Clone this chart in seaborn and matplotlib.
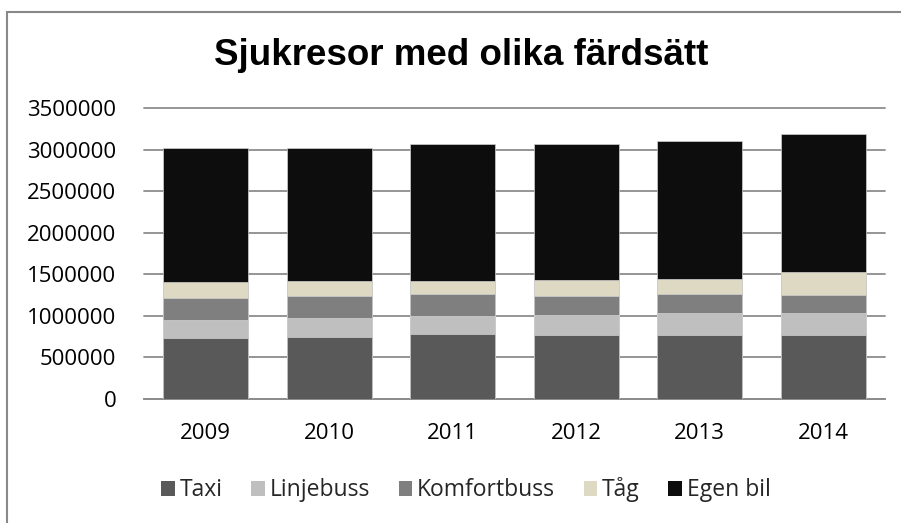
import pandas as pd
import matplotlib
matplotlib.use('Agg')
import matplotlib.pyplot as plt
import seaborn as sns
from matplotlib.patches import Patch, Rectangle

# data
years = ['2009', '2010', '2011', '2012', '2013', '2014']
taxi = [731000, 751000, 779000, 767000, 775000, 767000]
linjebuss = [216000, 229000, 225000, 249000, 261000, 273000]
komfortbuss = [265000, 260000, 257000, 224000, 233000, 209000]
tag = [197000, 181000, 160000, 189000, 176000, 276000]
egen_bil = [1610000, 1606000, 1646000, 1642000, 1658000, 1666000]

series = ['Taxi', 'Linjebuss', 'Komfortbuss', 'Tåg', 'Egen bil']
colors = ['#595959', '#BFBFBF', '#7F7F7F', '#DDD9C3', '#0D0D0D']

df = pd.DataFrame({'År': years, 'Taxi': taxi, 'Linjebuss': linjebuss,
                   'Komfortbuss': komfortbuss, 'Tåg': tag, 'Egen bil': egen_bil})
# kumulativa summor för staplade staplar
cum = df[series].cumsum(axis=1)
cum['År'] = df['År']

sns.set_style('white')
plt.rcParams['font.family'] = ['Open Sans', 'DejaVu Sans']

fig = plt.figure(figsize=(9.01, 5.23), dpi=100)
ax = fig.add_axes([144 / 901, 1 - 399 / 523, (885 - 144) / 901, (399 - 108.3) / 523])

# rita från högsta kumulativa värdet och nedåt
for s, c in reversed(list(zip(series, colors))):
    sns.barplot(data=cum, x='År', y=s, color=c, width=0.69, ax=ax,
                edgecolor='#d0d0d0', linewidth=0.5, saturation=1, zorder=3)

ax.set_ylim(0, 3500000)
ax.set_xlim(-0.5, 5.5)
ax.set_yticks(range(0, 3500001, 500000))
ax.set_yticklabels([str(v) for v in range(0, 3500001, 500000)])
ax.yaxis.grid(True, color='#8c8c8c', linewidth=1.3, zorder=0)
for g in ax.get_ygridlines():
    g.set_clip_on(False)
ax.set_axisbelow(True)
for sp in ['top', 'right', 'left']:
    ax.spines[sp].set_visible(False)
ax.spines['bottom'].set_color('#8c8c8c')
ax.spines['bottom'].set_linewidth(1.3)
ax.tick_params(axis='both', length=0, labelsize=16, colors='black')
ax.tick_params(axis='y', pad=20)
ax.tick_params(axis='x', pad=17)
ax.set_xlabel('')
ax.set_ylabel('')

fig.text(461 / 901, 1 - 65 / 523, 'Sjukresor med olika färdsätt', ha='center',
         va='baseline', fontsize=26.5, fontweight='bold', family='Liberation Sans',
         color='black')

handles = [Patch(facecolor=c, edgecolor='none', label=s) for s, c in zip(series, colors)]
fig.legend(handles=handles, loc='center', bbox_to_anchor=(466 / 901, 1 - 490 / 523),
           ncol=5, frameon=False, fontsize=16.5, handlelength=0.6, handleheight=0.6,
           handletextpad=0.2, columnspacing=1.25)

fig.patches.append(Rectangle((7 / 901, -0.1), 1.2, 1.1 - 12 / 523, transform=fig.transFigure,
                             fill=False, edgecolor='#888888', linewidth=1.5))

fig.savefig('out.png', dpi=100)
